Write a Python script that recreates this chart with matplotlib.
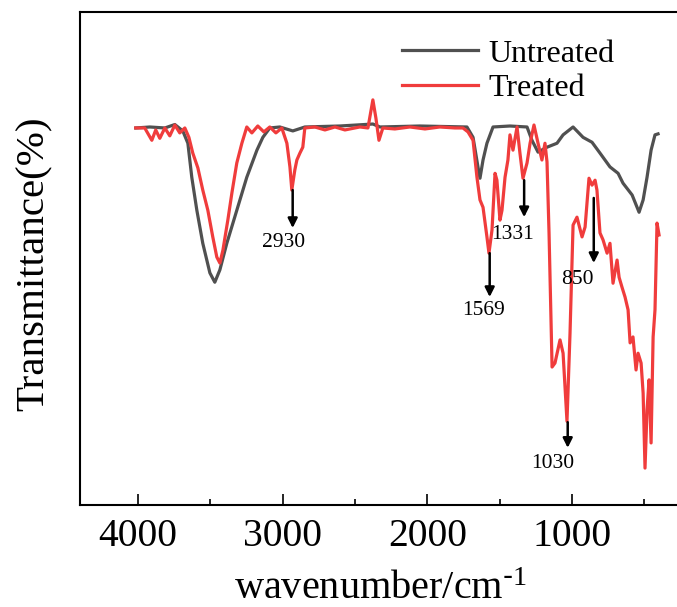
import numpy as np
import matplotlib
matplotlib.use("Agg")
import matplotlib.pyplot as plt

# FTIR spectra (wavenumber in cm-1, transmittance in arbitrary %)
untreated_wn = [4014, 3917, 3813, 3744, 3689, 3654, 3627, 3592, 3551, 3502, 3468, 3433,
                3385, 3316, 3247, 3177, 3136, 3088, 3019, 2929, 2846, 2604, 2376, 2327,
                2051, 1726, 1684, 1650, 1636, 1615, 1588, 1546, 1429, 1311, 1277, 1235,
                1173, 1104, 1062, 993, 924, 862, 807, 738, 682, 648, 585, 537, 509, 482,
                454, 427, 406]
untreated_t = [76.5, 76.7, 76.5, 77.2, 75.9, 73.4, 66.5, 59.8, 53.1, 47.1, 45.2, 47.7,
               53.1, 59.8, 66.5, 72.0, 74.6, 76.5, 76.7, 75.9, 76.7, 76.9, 77.3, 76.7,
               76.9, 76.7, 74.6, 68.6, 66.3, 70.0, 73.4, 76.7, 76.9, 76.7, 74.0, 71.6,
               72.6, 73.4, 75.1, 76.7, 74.6, 73.6, 71.4, 68.6, 67.3, 65.3, 62.9, 59.4,
               61.9, 66.5, 72.0, 75.1, 75.3]

treated_wn = [4014, 3952, 3903, 3876, 3848, 3813, 3779, 3744, 3710, 3675, 3647, 3620,
              3585, 3551, 3516, 3482, 3454, 3433, 3412, 3378, 3350, 3316, 3281, 3247,
              3212, 3171, 3129, 3088, 3046, 3005, 2970, 2949, 2936, 2915, 2901, 2880,
              2860, 2846, 2777, 2707, 2638, 2569, 2466, 2410, 2376, 2355, 2334, 2307,
              2224, 2120, 2016, 1913, 1809, 1754, 1719, 1684, 1657, 1636, 1615, 1588,
              1574, 1553, 1532, 1519, 1498, 1484, 1463, 1443, 1429, 1408, 1380, 1360,
              1339, 1311, 1290, 1263, 1235, 1208, 1187, 1173, 1159, 1138, 1118, 1083,
              1062, 1035, 1014, 993, 966, 931, 910, 883, 862, 841, 828, 807, 786, 758,
              738, 717, 689, 675, 655, 634, 613, 599, 579, 558, 544, 523, 509, 496, 482,
              468, 454, 440, 427, 413, 399]
treated_t = [76.5, 76.5, 74.0, 76.1, 74.4, 76.5, 74.9, 77.1, 75.5, 76.5, 74.6, 71.4,
             68.4, 63.9, 59.8, 54.4, 50.3, 49.1, 51.7, 57.8, 63.3, 69.4, 73.4, 76.7,
             75.5, 76.9, 75.7, 76.7, 75.5, 76.5, 73.4, 68.6, 63.9, 68.0, 70.0, 71.4,
             72.6, 76.5, 76.7, 76.1, 76.7, 76.1, 76.7, 76.5, 82.2, 78.5, 74.0, 76.5,
             76.3, 76.7, 76.3, 76.7, 76.5, 76.5, 75.7, 74.0, 66.5, 61.9, 60.4, 54.4,
             51.1, 55.8, 67.3, 65.9, 57.8, 59.8, 66.5, 70.0, 75.1, 72.0, 76.7, 71.4,
             66.3, 69.4, 73.4, 77.1, 73.4, 70.0, 73.4, 69.6, 55.2, 28.0, 28.8, 33.5,
             30.8, 17.0, 34.9, 56.8, 58.4, 54.4, 56.4, 66.3, 64.9, 65.9, 63.9, 55.2,
             53.8, 51.1, 53.1, 45.0, 49.7, 46.2, 44.2, 42.2, 39.6, 32.9, 34.1, 27.4,
             30.8, 28.8, 22.7, 7.5, 19.3, 25.4, 12.6, 34.1, 39.6, 57.2, 54.8]

# marked peaks of the treated sample
peak_labels = ["2930", "1569", "1331", "1030", "850"]
peak_wn = [2930, 1569, 1331, 1030, 850]

# arrow start / tip and label placement (y in axis units, label x offset in cm-1)
arrow_start = [63.9, 51.1, 65.9, 16.8, 62.3]
arrow_tip = [56.2, 42.2, 58.4, 11.6, 49.1]
label_y = [53.3, 39.5, 54.8, 8.4, 45.8]
label_dx = [62, 45, 80, 105, 110]

plt.rcParams['font.family'] = ['Liberation Serif', 'DejaVu Serif']
plt.rcParams['mathtext.default'] = 'regular'

fig = plt.figure(figsize=(6.77, 6.07), dpi=100)
ax = fig.add_axes([0.118, 0.168, 0.882, 0.812])

ax.plot(untreated_wn, untreated_t, color='#505050', lw=2.3, label='Untreated')
ax.plot(treated_wn, treated_t, color='#f03c3c', lw=2.3, label='Treated')

for lab, wn, y0, y1, ly, dx in zip(peak_labels, peak_wn, arrow_start, arrow_tip, label_y, label_dx):
    ax.annotate('', xy=(wn, y1), xytext=(wn, y0),
                arrowprops=dict(arrowstyle='-|>', color='black', lw=1.8,
                                mutation_scale=14, shrinkA=0, shrinkB=0))
    ax.text(wn + dx, ly, lab, ha='center', va='center', fontsize=15.5)

ax.set_xlim(4400, 275)
ax.set_ylim(0, 100)
ax.set_xticks([4000, 3000, 2000, 1000])
ax.set_xticks([3500, 2500, 1500, 500], minor=True)
ax.set_yticks([])
ax.tick_params(axis='x', which='major', direction='in', length=8, width=1.2,
               labelsize=28.5, pad=9)
ax.tick_params(axis='x', which='minor', direction='in', length=4, width=1.2)
ax.spines['right'].set_visible(False)
for s in ['left', 'top', 'bottom']:
    ax.spines[s].set_linewidth(1.5)

ax.set_xlabel(r'wavenumber/cm$^{\text{-}1}$', fontsize=29)
ax.set_ylabel('Transmittance(%)', fontsize=29.5)
ax.xaxis.set_label_coords(0.504, -0.133)
ax.yaxis.set_label_coords(-0.045, 0.49)

ax.legend(loc='upper left', bbox_to_anchor=(0.539, 0.945), frameon=False,
          fontsize=23, handlelength=2.4, handletextpad=0.3, labelspacing=0.17,
          borderpad=0, borderaxespad=0)

plt.savefig('out.png', dpi=100)
plt.close()
